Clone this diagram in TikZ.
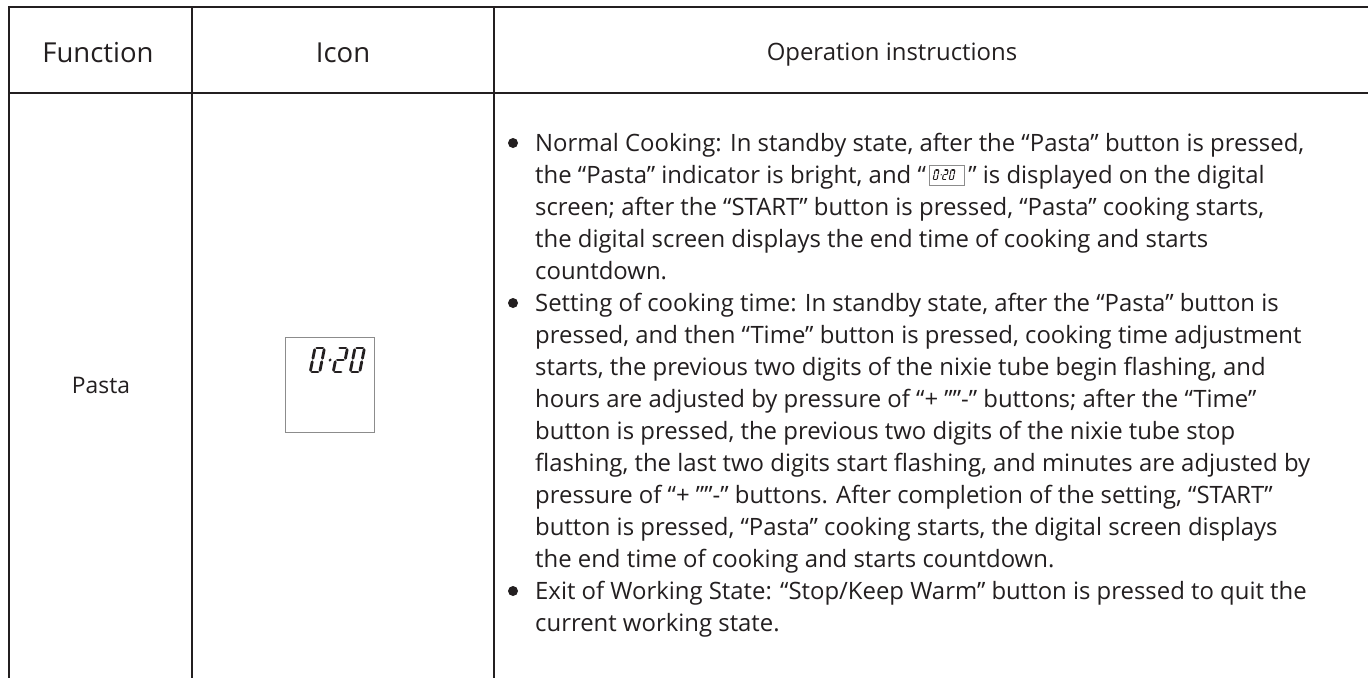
\documentclass[tikz,border=0pt]{standalone}
\usepackage{fontspec}
\setmainfont{Open Sans}
\definecolor{ink}{HTML}{231F20}
\definecolor{boxgray}{HTML}{8C8C8C}
\newcommand\lcdW{9.5}
\newcommand\lcdH{24}
\newcommand\lcdG{1.7}
\newcommand\lcdzero[1]{%
  \draw (#1+\lcdG,0) -- (#1+\lcdW-\lcdG,0);
  \draw (#1+\lcdW,\lcdG) -- (#1+\lcdW,\lcdH/2-\lcdG);
  \draw (#1+\lcdW,\lcdH/2+\lcdG) -- (#1+\lcdW,\lcdH-\lcdG);
  \draw (#1+\lcdG,\lcdH) -- (#1+\lcdW-\lcdG,\lcdH);
  \draw (#1,\lcdH/2+\lcdG) -- (#1,\lcdH-\lcdG);
  \draw (#1,\lcdG) -- (#1,\lcdH/2-\lcdG);}
\newcommand\lcdtwo[1]{%
  \draw (#1+\lcdG,0) -- (#1+\lcdW-\lcdG,0);
  \draw (#1+\lcdW,\lcdG) -- (#1+\lcdW,\lcdH/2-\lcdG);
  \draw (#1+\lcdG,\lcdH/2) -- (#1+\lcdW-\lcdG,\lcdH/2);
  \draw (#1,\lcdH/2+\lcdG) -- (#1,\lcdH-\lcdG);
  \draw (#1+\lcdG,\lcdH) -- (#1+\lcdW-\lcdG,\lcdH);}
% #1 origin coordinate, #2 scale, #3 line width
\newcommand\lcdtime[3]{%
  \begin{scope}[shift={#1}, scale=#2, xslant=0.2, line width=#3, line cap=round, draw=ink]
    \lcdzero{0}
    \fill[ink] (17.5,\lcdH/2) circle[radius=1.6];
    \lcdtwo{23}
    \lcdzero{40}
  \end{scope}}
\tikzset{
  rule/.style={draw=ink, line width=2.7pt},
  head/.style={font=\fontsize{27.5}{30}\selectfont, text=ink, inner sep=0, anchor=base},
  headsmall/.style={font=\fontsize{23.9}{28}\selectfont, text=ink, inner sep=0, anchor=base},
  namefont/.style={font=\fontsize{22.8}{27}\selectfont, text=ink, inner sep=0, anchor=base},
  txt/.style={font=\fontsize{23.9}{28}\selectfont, text=ink, inner sep=0, anchor=base west},
  dot/.style={fill=ink, circle, inner sep=0, minimum size=10pt},
  lcdbox/.style={draw=boxgray, line width=1pt, inner sep=0},
}
\begin{document}
\begin{tikzpicture}[x=1pt, y=-1pt]
\useasboundingbox (0,0) rectangle (1368,678);
\fill[white] (0,0) rectangle (1368,678);
% table rules
\draw[rule] (1368,7) -- (9,7) -- (9,678);
\draw[rule] (9,93) -- (1368,93);
\draw[rule] (192,7) -- (192,678);
\draw[rule] (494,7) -- (494,678);
% headers
\node[head] (hf) at (98,62) {Function};
\node[head] (hi) at (343,62) {Icon};
\node[headsmall] (ho) at (892,60) {Operation instructions};
% function name
\node[namefont] (fn) at (101,393) {Pasta};
% icon
\node[lcdbox, minimum width=89pt, minimum height=95pt, anchor=north west] (icon) at (285,337) {};
\lcdtime{(315,348)}{1}{2.8pt}
% bullets
\node[dot] (b1) at (513,143) {};
\node[dot] (b2) at (513,303) {};
\node[dot] (b3) at (513,591) {};
% text lines
\node[txt] (l1) at (535,151) {Normal Cooking: In standby state, after the “Pasta” button is pressed,};
\node[txt] (l2a) at (535,183) {the “Pasta” indicator is bright, and “};
\node[lcdbox, minimum width=35pt, minimum height=20pt, anchor=south west] (ic2) at ([xshift=3pt,yshift=-3pt]l2a.base east) {};
\lcdtime{([xshift=6pt,yshift=-5pt]ic2.north west)}{0.4}{1.1pt}
\path (ic2.east |- l2a.base) ++(3,0) node[txt] (l2b) {” is displayed on the digital};
\node[txt] (l3) at (535,215) {screen; after the “START” button is pressed, “Pasta” cooking starts,};
\node[txt] (l4) at (535,247) {the digital screen displays the end time of cooking and starts};
\node[txt] (l5) at (535,279) {countdown.};
\node[txt] (l6) at (535,311) {Setting of cooking time: In standby state, after the “Pasta” button is};
\node[txt] (l7) at (535,343) {pressed, and then “Time” button is pressed, cooking time adjustment};
\node[txt] (l8) at (535,375) {starts, the previous two digits of the nixie tube begin flashing, and};
\node[txt] (l9) at (535,407) {hours are adjusted by pressure of “+ ””-” buttons; after the “Time”};
\node[txt] (l10) at (535,439) {button is pressed, the previous two digits of the nixie tube stop};
\node[txt] (l11) at (535,471) {flashing, the last two digits start flashing, and minutes are adjusted by};
\node[txt] (l12) at (535,503) {pressure of “+ ””-” buttons. After completion of the setting, “START”};
\node[txt] (l13) at (535,535) {button is pressed, “Pasta” cooking starts, the digital screen displays};
\node[txt] (l14) at (535,567) {the end time of cooking and starts countdown.};
\node[txt] (l15) at (535,599) {Exit of Working State: “Stop/Keep Warm” button is pressed to quit the};
\node[txt] (l16) at (535,631) {current working state.};
\end{tikzpicture}
\end{document}
